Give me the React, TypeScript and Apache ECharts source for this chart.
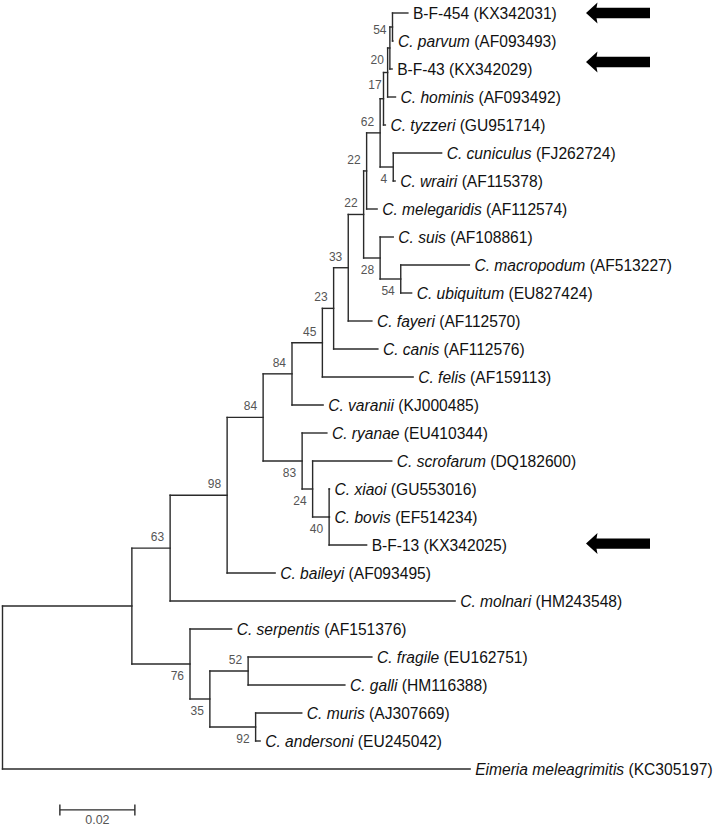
import React, { useEffect, useRef } from "react";
import * as echarts from "echarts";

// ---- Leaves (top to bottom) ----
const leafSpecies = [
  "B-F-454", "C. parvum", "B-F-43", "C. hominis", "C. tyzzeri", "C. cuniculus",
  "C. wrairi", "C. melegaridis", "C. suis", "C. macropodum", "C. ubiquitum",
  "C. fayeri", "C. canis", "C. felis", "C. varanii", "C. ryanae", "C. scrofarum",
  "C. xiaoi", "C. bovis", "B-F-13", "C. baileyi", "C. molnari", "C. serpentis",
  "C. fragile", "C. galli", "C. muris", "C. andersoni", "Eimeria meleagrimitis",
];
const leafAccession = [
  "KX342031", "AF093493", "KX342029", "AF093492", "GU951714", "FJ262724",
  "AF115378", "AF112574", "AF108861", "AF513227", "EU827424", "AF112570",
  "AF112576", "AF159113", "KJ000485", "EU410344", "DQ182600", "GU553016",
  "EF514234", "KX342025", "AF093495", "HM243548", "AF151376", "EU162751",
  "HM116388", "AJ307669", "EU245042", "KC305197",
];
const leafItalic = [
  false, true, false, true, true, true, true, true, true, true, true, true, true,
  true, true, true, true, true, true, false, true, true, true, true, true, true,
  true, true,
];
// distance from root (substitutions/site)
const leafDepth = [
  0.1081, 0.1041, 0.1039, 0.1048, 0.1021, 0.1171, 0.1047, 0.0999, 0.1042,
  0.1245, 0.1091, 0.0985, 0.1001, 0.1095, 0.0855, 0.0865, 0.1038, 0.0872,
  0.0872, 0.0971, 0.0727, 0.1207, 0.0611, 0.0985, 0.0913, 0.0798, 0.0687,
  0.1247,
];

// ---- Internal nodes ----
const nodeIds = [
  "root", "X", "n63", "n98", "n84a", "n84b", "n45", "n23", "n33", "n22a",
  "n22b", "n62", "nY", "n17", "n20", "n54", "n4", "n28", "n54b", "n83", "n24",
  "n40", "n76", "n35", "n52", "n92",
];
const nodeDepth = [
  0.0, 0.0345, 0.0447, 0.0599, 0.0695, 0.0772, 0.0853, 0.0883, 0.0922, 0.0963,
  0.0971, 0.1007, 0.1016, 0.1027, 0.1033, 0.104, 0.1042, 0.1007, 0.1062,
  0.0799, 0.0827, 0.0871, 0.05, 0.0553, 0.0655, 0.0675,
];
const nodeChildren = [
  ["X", "L27"], ["n63", "n76"], ["n98", "L21"], ["n84a", "L20"],
  ["n84b", "n83"], ["n45", "L14"], ["n23", "L13"], ["n33", "L12"],
  ["n22a", "L11"], ["n22b", "n28"], ["n62", "L7"], ["nY", "n4"],
  ["n17", "L4"], ["n20", "L3"], ["n54", "L2"], ["L0", "L1"], ["L5", "L6"],
  ["L8", "n54b"], ["L9", "L10"], ["L15", "n24"], ["L16", "n40"],
  ["L17", "L18", "L19"], ["L22", "n35"], ["n52", "n92"], ["L23", "L24"],
  ["L25", "L26"],
];
const nodeSupport = [
  "", "", "63", "98", "84", "84", "45", "23", "33", "22", "22", "62", "", "17",
  "20", "54", "4", "28", "54", "83", "24", "40", "76", "35", "52", "92",
];
const nodeLabelSide = [
  "", "", "a", "a", "a", "a", "a", "a", "a", "a", "a", "a", "", "b", "b", "m",
  "b", "b", "b", "b", "b", "b", "b", "b", "a", "b",
];

// ---- Annotations ----
const arrowRows = [0, 1.75, 18.95];
const arrowTipDepth = 0.1556;
const scaleBarStart = 0.0153;
const scaleBarLength = 0.02;
const scaleBarRow = 28.46;
const scaleBarLabel = "0.02";

const FONT = "'Liberation Sans', Arial, Helvetica, sans-serif";
const LINE = "#2a2a2a";

export default function App() {
  const ref = useRef<HTMLDivElement>(null);

  useEffect(() => {
    const chart = echarts.init(ref.current as HTMLDivElement, null, {
      renderer: "svg",
    });

    const depthOf: Record<string, number> = {};
    const rowOf: Record<string, number> = {};
    const childMap: Record<string, string[]> = {};
    leafSpecies.forEach((_, i) => {
      depthOf["L" + i] = leafDepth[i];
      rowOf["L" + i] = i;
    });
    nodeIds.forEach((id, k) => {
      depthOf[id] = nodeDepth[k];
      childMap[id] = nodeChildren[k];
    });
    const getRow = (id: string): number => {
      if (rowOf[id] !== undefined) return rowOf[id];
      const ch = childMap[id];
      const r = (getRow(ch[0]) + getRow(ch[ch.length - 1])) / 2;
      rowOf[id] = r;
      return r;
    };
    nodeIds.forEach((id) => getRow(id));

    const segments: number[][] = [];
    nodeIds.forEach((id) => {
      const ch = childMap[id];
      const x = depthOf[id];
      const rows = ch.map(getRow);
      segments.push([x, Math.min(...rows), x, Math.max(...rows)]);
      ch.forEach((c) => segments.push([x, getRow(c), depthOf[c], getRow(c)]));
    });

    const leafData = leafSpecies.map((_, i) => [leafDepth[i], i, i]);
    const supportData: number[][] = [];
    nodeIds.forEach((id, k) => {
      if (nodeSupport[k]) supportData.push([depthOf[id], rowOf[id], k]);
    });
    const arrowData = arrowRows.map((r) => [arrowTipDepth, r]);
    const scaleData = [[scaleBarStart, scaleBarRow, scaleBarStart + scaleBarLength]];

    const richStyles = {
      i: { fontStyle: "italic", fontSize: 15.6, fontFamily: FONT, fill: "#111" },
      n: { fontStyle: "normal", fontSize: 15.6, fontFamily: FONT, fill: "#111" },
    };

    chart.setOption({
      animation: false,
      grid: { left: 2.5, top: 13, width: 675, height: 756 },
      xAxis: { type: "value", min: 0, max: 0.18, show: false },
      yAxis: { type: "value", min: 0, max: 27, inverse: true, show: false },
      series: [
        {
          type: "custom",
          clip: false,
          data: segments,
          encode: { x: [0, 2], y: [1, 3] },
          renderItem: (_p: any, api: any) => {
            const a = api.coord([api.value(0), api.value(1)]);
            const b = api.coord([api.value(2), api.value(3)]);
            return {
              type: "line",
              shape: { x1: a[0], y1: a[1], x2: b[0], y2: b[1] },
              style: { stroke: LINE, lineWidth: 1.4, lineCap: "square" },
            };
          },
        },
        {
          type: "custom",
          clip: false,
          data: leafData,
          encode: { x: 0, y: 1 },
          renderItem: (_p: any, api: any) => {
            const p = api.coord([api.value(0), api.value(1)]);
            const i = api.value(2);
            const text = leafItalic[i]
              ? `{i|${leafSpecies[i]}}{n| (${leafAccession[i]})}`
              : `{n|${leafSpecies[i]} (${leafAccession[i]})}`;
            return {
              type: "text",
              x: p[0] + 5,
              y: p[1] + 0.5,
              style: {
                text,
                rich: richStyles,
                fontSize: 15.6,
                fontFamily: FONT,
                fill: "#111",
                align: "left",
                verticalAlign: "middle",
              },
            };
          },
        },
        {
          type: "custom",
          clip: false,
          data: supportData,
          encode: { x: 0, y: 1 },
          renderItem: (_p: any, api: any) => {
            const p = api.coord([api.value(0), api.value(1)]);
            const k = api.value(2);
            const side = nodeLabelSide[k];
            const dy = side === "a" ? -11 : side === "b" ? 12 : 3;
            return {
              type: "text",
              x: p[0] - 6,
              y: p[1] + dy,
              style: {
                text: nodeSupport[k],
                fontSize: 12,
                fontFamily: FONT,
                fill: "#555",
                align: "right",
                verticalAlign: "middle",
              },
            };
          },
        },
        {
          type: "custom",
          clip: false,
          data: arrowData,
          encode: { x: 0, y: 1 },
          renderItem: (_p: any, api: any) => {
            const p = api.coord([api.value(0), api.value(1)]);
            const x = p[0];
            const y = p[1];
            return {
              type: "polygon",
              shape: {
                points: [
                  [x, y],
                  [x + 11.5, y - 10.5],
                  [x + 10.5, y - 5.2],
                  [x + 64, y - 5.2],
                  [x + 64, y + 5.2],
                  [x + 10.5, y + 5.2],
                  [x + 11.5, y + 10.5],
                ],
              },
              style: { fill: "#000" },
            };
          },
        },
        {
          type: "custom",
          clip: false,
          data: scaleData,
          encode: { x: [0, 2], y: 1 },
          renderItem: (_p: any, api: any) => {
            const a = api.coord([api.value(0), api.value(1)]);
            const b = api.coord([api.value(2), api.value(1)]);
            const st = { stroke: LINE, lineWidth: 1.4 };
            return {
              type: "group",
              children: [
                { type: "line", shape: { x1: a[0], y1: a[1], x2: b[0], y2: b[1] }, style: st },
                { type: "line", shape: { x1: a[0], y1: a[1] - 5.5, x2: a[0], y2: a[1] + 5.5 }, style: st },
                { type: "line", shape: { x1: b[0], y1: b[1] - 5.5, x2: b[0], y2: b[1] + 5.5 }, style: st },
                {
                  type: "text",
                  x: (a[0] + b[0]) / 2,
                  y: a[1] + 10,
                  style: {
                    text: scaleBarLabel,
                    fontSize: 12.5,
                    fontFamily: FONT,
                    fill: "#555",
                    align: "center",
                    verticalAlign: "middle",
                  },
                },
              ],
            };
          },
        },
      ],
    });

    return () => {
      chart.dispose();
    };
  }, []);

  return (
    <div
      ref={ref}
      style={{ position: "fixed", left: 0, top: 0, width: 714, height: 827, background: "#fff" }}
    />
  );
}
